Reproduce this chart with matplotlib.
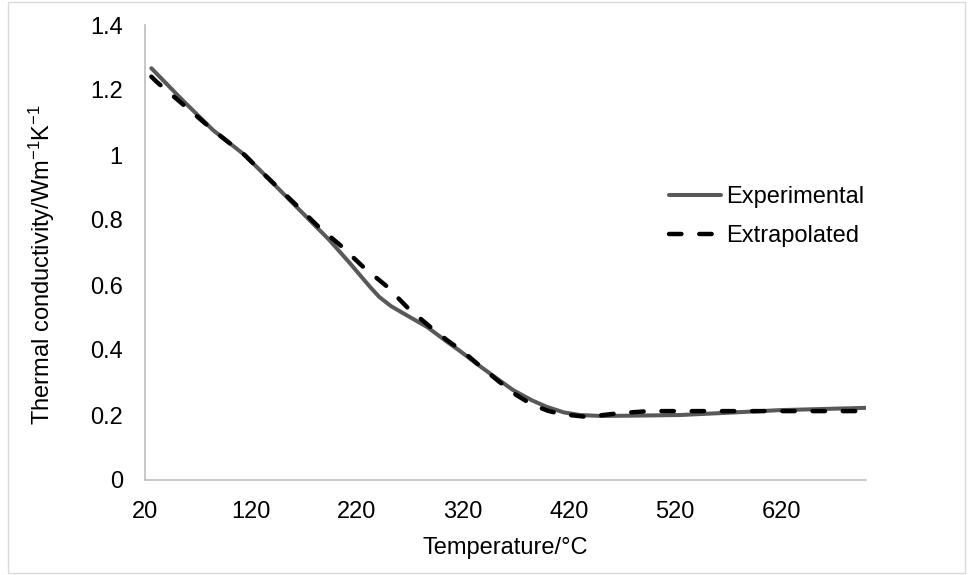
import matplotlib
matplotlib.use("Agg")
import matplotlib.pyplot as plt
from matplotlib.patches import Rectangle

# datos
temp_exp = [26, 55, 84, 114, 131, 163, 194, 213, 232, 241, 252, 263, 286, 305, 317, 336, 355, 367, 385, 399,
            415, 430, 450, 480, 525, 570, 619, 700]
k_exp = [1.267, 1.17, 1.077, 1.0, 0.945, 0.84, 0.738, 0.668, 0.595, 0.563, 0.535, 0.514, 0.471, 0.425, 0.397,
         0.35, 0.305, 0.277, 0.245, 0.225, 0.208, 0.2, 0.197, 0.198, 0.2, 0.207, 0.215, 0.222]

temp_ext = [26, 31, 84, 114, 131, 163, 185, 204, 226, 248, 268, 289, 305, 320, 338, 355, 370, 385, 400, 412,
            437, 468, 496, 556, 620, 700]
k_ext = [1.241, 1.225, 1.077, 1.0, 0.945, 0.845, 0.775, 0.723, 0.655, 0.596, 0.529, 0.471, 0.43, 0.395, 0.345,
         0.3, 0.262, 0.232, 0.213, 0.203, 0.194, 0.206, 0.212, 0.212, 0.212, 0.212]

x_ticks = [20, 120, 220, 320, 420, 520, 620]
y_ticks = [0, 0.2, 0.4, 0.6, 0.8, 1, 1.2, 1.4]
y_tick_labels = ["0", "0.2", "0.4", "0.6", "0.8", "1", "1.2", "1.4"]

plt.rcParams["font.family"] = ["Liberation Sans", "DejaVu Sans"]
plt.rcParams["mathtext.fontset"] = "custom"
plt.rcParams["mathtext.rm"] = "Liberation Sans"
plt.rcParams["mathtext.default"] = "regular"

fig = plt.figure(figsize=(9.69, 5.75), dpi=100)
ax = fig.add_axes([145 / 969, 1 - 480 / 575, (866 - 145) / 969, (480 - 25) / 575])

ax.plot(temp_exp, k_exp, color="#595959", lw=2.9, label="Experimental", solid_capstyle="round",
        solid_joinstyle="round")
ax.plot(temp_ext, k_ext, color="black", lw=3.2, ls=(0, (2.8, 4.0)), dash_capstyle="round",
        label="Extrapolated")

ax.set_xlim(20, 700)
ax.set_ylim(0, 1.4)
ax.set_xticks(x_ticks)
ax.set_yticks(y_ticks)
ax.set_yticklabels(y_tick_labels)
ax.tick_params(length=0, labelsize=17)
ax.tick_params(axis="x", pad=15)
ax.tick_params(axis="y", pad=16)

for s in ["top", "right"]:
    ax.spines[s].set_visible(False)
for s in ["left", "bottom"]:
    ax.spines[s].set_color("#bfbfbf")
    ax.spines[s].set_linewidth(1.2)

ax.set_xlabel("Temperature/°C", fontsize=17, labelpad=10)
ax.set_ylabel("Thermal conductivity/Wm$^{-1}$K$^{-1}$", fontsize=17)
ax.yaxis.set_label_coords((57 - 145) / 721, (480 - 265) / 455)

ax.legend(loc="upper left", bbox_to_anchor=(648 / 969, 1 - 165 / 575), bbox_transform=fig.transFigure,
          frameon=False, fontsize=17, handlelength=2.2, handletextpad=0.2, labelspacing=0.7)

# borde del area del grafico
fig.patches.append(Rectangle((0.008, 0.004), 0.988, 0.992, transform=fig.transFigure,
                             fill=False, edgecolor="#d9d9d9", lw=1))

fig.savefig("out.png", dpi=100)
